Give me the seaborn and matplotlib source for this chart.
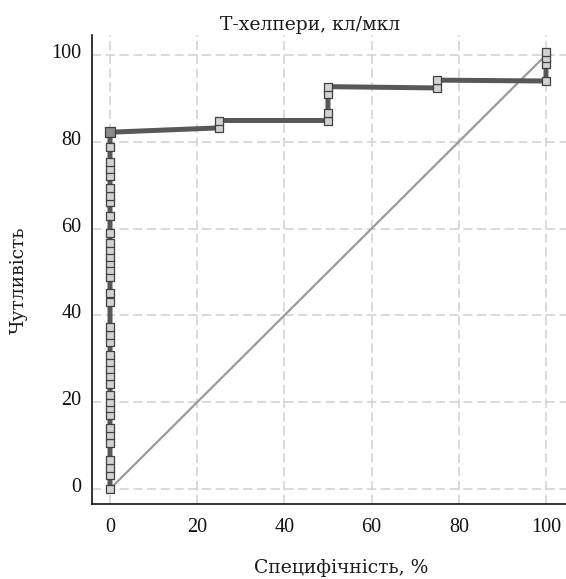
import matplotlib
matplotlib.use("Agg")
import matplotlib.pyplot as plt
import matplotlib.transforms as mtransforms
import seaborn as sns
import pandas as pd

# ROC path (specificity axis as drawn, sensitivity)
x_vals = [0]*37 + [25, 25, 50, 50, 50, 50, 75, 75, 100, 100, 100, 100]
y_vals = [0, 3.2, 4.9, 6.6, 10.7, 12.4, 14.1, 17.1, 18.6, 20.1, 21.6, 24.3,
          26.0, 27.7, 29.3, 30.9, 33.8, 35.4, 37.3, 43.0, 45.2, 48.9, 50.4,
          52.0, 53.5, 55.0, 56.7, 58.9, 63.0, 66.1, 67.6, 69.3, 72.1, 73.7,
          75.3, 78.9, 82.2,
          83.2, 84.9, 84.9, 86.6, 90.9, 92.7, 92.4, 94.2, 94.0, 97.9, 99.3, 100.7]
diag_x = [0, 100]
diag_y = [0, 100]
ticks = [0, 20, 40, 60, 80, 100]

title = "Т-хелпери, кл/мкл"
xlabel = "Специфічність, %"
ylabel = "Чутливість"

sns.set_theme(style="white")
plt.rcParams['font.family'] = ['Liberation Serif', 'DejaVu Serif']
label_font = ['DejaVu Serif']

df = pd.DataFrame({"x": x_vals, "y": y_vals})
ddf = pd.DataFrame({"x": diag_x, "y": diag_y})

fig = plt.figure(figsize=(5.66, 5.79), dpi=100)
ax = fig.add_axes([92/566, 75/579, 474/566, 469/579])

ax.set_axisbelow(True)
ax.grid(True, color="#d0d0d0", linestyle=(0, (6, 3)), linewidth=1.1)

sns.lineplot(data=ddf, x="x", y="y", ax=ax, color="#9a9a9a", linewidth=1.6, zorder=2)
sns.lineplot(data=df, x="x", y="y", sort=False, estimator=None, ax=ax,
             color="#585858", linewidth=3.6, zorder=3)
sns.scatterplot(data=df, x="x", y="y", ax=ax, marker="s", s=36,
                color="#d2d2d2", edgecolor="#404040", linewidth=0.9, zorder=4)
top = df.iloc[[36]]
sns.scatterplot(data=top, x="x", y="y", ax=ax, marker="s", s=48,
                color="#8a8a8a", edgecolor="#404040", linewidth=0.9, zorder=5)

ax.set_xlim(-4.13, 104.6)
ax.set_ylim(-3.46, 104.6)
ax.set_xticks(ticks)
ax.set_yticks(ticks)
ax.tick_params(axis="both", length=0, labelsize=14.5, colors="#111111")
ax.tick_params(axis="x", pad=10)
ax.tick_params(axis="y", pad=7.5)
shift = mtransforms.ScaledTranslation(0, 4/100, fig.dpi_scale_trans)
for lab in ax.get_yticklabels():
    lab.set_transform(lab.get_transform() + shift)

for s in ["top", "right"]:
    ax.spines[s].set_visible(False)
for s in ["left", "bottom"]:
    ax.spines[s].set_color("#111111")
    ax.spines[s].set_linewidth(1.2)

ax.set_xlabel(xlabel, fontsize=13.5, color="#1a1a1a", family=label_font, fontweight="light")
ax.set_ylabel(ylabel, fontsize=13.5, color="#1a1a1a", family=label_font, fontweight="light")
ax.xaxis.set_label_coords((341-92)/474, (504-559)/469)
ax.yaxis.set_label_coords((28-92)/474, (504-280)/469)
fig.text(310/566, 1 - 25/579, title, ha="center", va="center", fontsize=13.5,
         color="#1a1a1a", family=label_font, fontweight="light")

fig.savefig("out.png", dpi=100)
